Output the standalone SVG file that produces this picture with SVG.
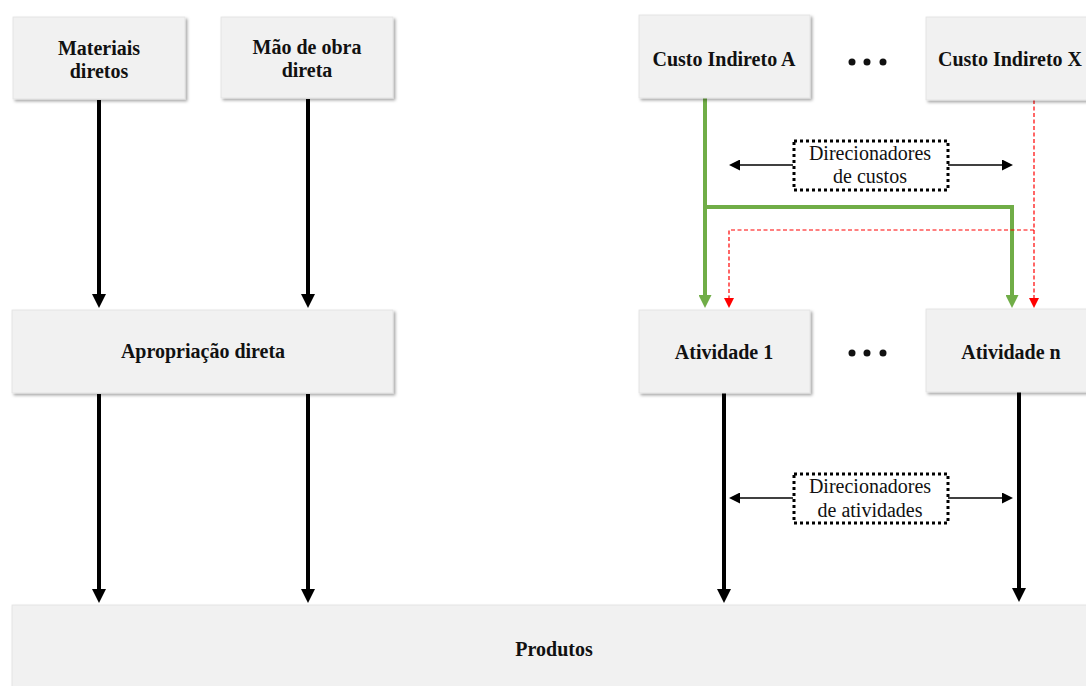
<svg xmlns="http://www.w3.org/2000/svg" width="1086" height="686" viewBox="0 0 1086 686">
  <style>
    .box { fill: #f1f1f1; stroke: #e2e2e2; stroke-width: 0.8; filter: url(#shadow); }
    .lbl { font-family: "Liberation Serif", "Times New Roman", serif; font-size: 20px; font-weight: bold; fill: #111; text-anchor: middle; }
    .drv { font-family: "Liberation Serif", "Times New Roman", serif; font-size: 20px; fill: #111; text-anchor: middle; }
    .flow { stroke: #000; stroke-width: 4; fill: none; marker-end: url(#headBlack); }
    .green { stroke: #70ad47; stroke-width: 4; fill: none; }
    .red { stroke: #ff0000; stroke-width: 1.2; stroke-dasharray: 4 2.5; fill: none; }
    .thin { stroke: #000; stroke-width: 1.5; fill: none; marker-end: url(#headThin); }
    .dotbox { fill: #fff; stroke: #000; stroke-width: 3; stroke-dasharray: 3 3; }
    .dot { fill: #111; }
  </style>
  <defs>
    <filter id="shadow" x="-5%" y="-10%" width="115%" height="130%">
      <feDropShadow dx="2" dy="2" stdDeviation="1.5" flood-color="#000" flood-opacity="0.35"/>
    </filter>
    <marker id="headBlack" markerUnits="userSpaceOnUse" viewBox="0 0 14 14" markerWidth="14" markerHeight="14" refX="4" refY="7" orient="auto">
      <path d="M0,0 L14,7 L0,14 z" fill="#000"/>
    </marker>
    <marker id="headGreen" markerUnits="userSpaceOnUse" viewBox="0 0 13 13" markerWidth="13" markerHeight="13" refX="4" refY="6.5" orient="auto">
      <path d="M0,0 L13,6.5 L0,13 z" fill="#70ad47"/>
    </marker>
    <marker id="headRed" markerUnits="userSpaceOnUse" viewBox="0 0 10 10" markerWidth="10" markerHeight="10" refX="3" refY="5" orient="auto">
      <path d="M0,0 L10,5 L0,10 z" fill="#ff0000"/>
    </marker>
    <marker id="headThin" markerUnits="userSpaceOnUse" viewBox="0 0 11 11" markerWidth="11" markerHeight="11" refX="4" refY="5.5" orient="auto">
      <path d="M0,0 L11,5.5 L0,11 z" fill="#000"/>
    </marker>
  </defs>

  <rect width="1086" height="686" fill="#fff"/>

  <!-- connectors -->
  <g id="connectors">
    <!-- direct costs -->
    <line class="flow" x1="99" y1="100" x2="99" y2="298"/>
    <line class="flow" x1="308" y1="99" x2="308" y2="298"/>
    <line class="flow" x1="99" y1="394" x2="99" y2="593"/>
    <line class="flow" x1="308" y1="394" x2="308" y2="593"/>
    <!-- activities to products -->
    <line class="flow" x1="724" y1="393" x2="724" y2="593"/>
    <line class="flow" x1="1019" y1="392" x2="1019" y2="592"/>
    <!-- cost A allocation (green) -->
    <path class="green" d="M705,98 V207 H1012"/>
    <line class="green" x1="705" y1="207" x2="705" y2="299" marker-end="url(#headGreen)"/>
    <line class="green" x1="1012" y1="205" x2="1012" y2="299" marker-end="url(#headGreen)"/>
    <!-- cost X allocation (red dashed) -->
    <line class="red" x1="1034" y1="100" x2="1034" y2="301" marker-end="url(#headRed)"/>
    <path class="red" d="M1034,230 H729 V301" marker-end="url(#headRed)"/>
    <!-- driver arrows -->
    <line class="thin" x1="793" y1="165" x2="736" y2="165"/>
    <line class="thin" x1="948" y1="165" x2="1006" y2="165"/>
    <line class="thin" x1="793" y1="498" x2="736" y2="498"/>
    <line class="thin" x1="948" y1="498" x2="1006" y2="498"/>
  </g>

  <!-- top row -->
  <g id="materiais-diretos">
    <rect class="box" x="13" y="17" width="172" height="82"/>
    <text class="lbl" x="99" y="55">Materiais</text>
    <text class="lbl" x="99" y="78">diretos</text>
  </g>
  <g id="mao-de-obra">
    <rect class="box" x="221" y="17" width="172" height="81"/>
    <text class="lbl" x="307" y="54">Mão de obra</text>
    <text class="lbl" x="307" y="77">direta</text>
  </g>
  <g id="custo-indireto-a">
    <rect class="box" x="639" y="15" width="171" height="83"/>
    <text class="lbl" x="724" y="66">Custo Indireto A</text>
  </g>
  <g id="dots-top">
    <circle class="dot" cx="852" cy="62" r="3.5"/>
    <circle class="dot" cx="867" cy="62" r="3.5"/>
    <circle class="dot" cx="883" cy="62" r="3.5"/>
  </g>
  <g id="custo-indireto-x">
    <rect class="box" x="926" y="17" width="172" height="83"/>
    <text class="lbl" x="1010" y="66">Custo Indireto X</text>
  </g>

  <!-- cost drivers -->
  <g id="direcionadores-custos">
    <rect class="dotbox" x="794" y="141" width="154" height="49"/>
    <text class="drv" x="870" y="160">Direcionadores</text>
    <text class="drv" x="870" y="183">de custos</text>
  </g>

  <!-- middle row -->
  <g id="apropriacao-direta">
    <rect class="box" x="12" y="310" width="381" height="83"/>
    <text class="lbl" x="203" y="358">Apropriação direta</text>
  </g>
  <g id="atividade-1">
    <rect class="box" x="639" y="310" width="171" height="83"/>
    <text class="lbl" x="724" y="359">Atividade 1</text>
  </g>
  <g id="dots-middle">
    <circle class="dot" cx="852" cy="353" r="3.5"/>
    <circle class="dot" cx="867" cy="353" r="3.5"/>
    <circle class="dot" cx="883" cy="353" r="3.5"/>
  </g>
  <g id="atividade-n">
    <rect class="box" x="926" y="309" width="172" height="83"/>
    <text class="lbl" x="1011" y="359">Atividade n</text>
  </g>

  <!-- activity drivers -->
  <g id="direcionadores-atividades">
    <rect class="dotbox" x="794" y="474" width="154" height="49"/>
    <text class="drv" x="870" y="493">Direcionadores</text>
    <text class="drv" x="870" y="517">de atividades</text>
  </g>

  <!-- bottom row -->
  <g id="produtos">
    <rect class="box" x="12" y="605" width="1090" height="100"/>
    <text class="lbl" x="554" y="656">Produtos</text>
  </g>
</svg>
